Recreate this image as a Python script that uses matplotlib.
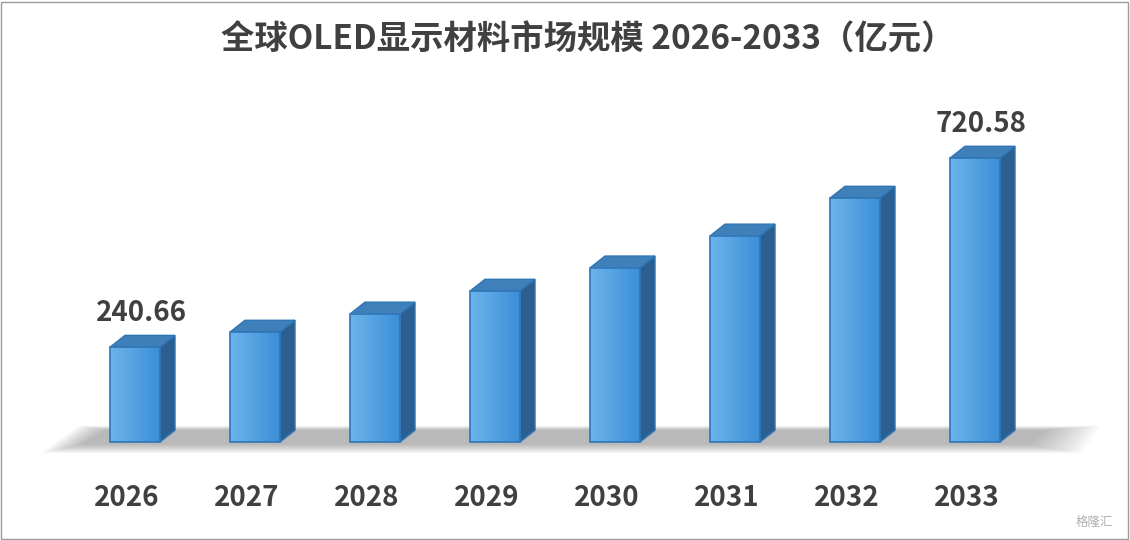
import numpy as np
import matplotlib.pyplot as plt
from matplotlib.patches import Polygon

plt.rcParams['font.family'] = ['Noto Sans CJK SC', 'DejaVu Sans']

years = ['2026', '2027', '2028', '2029', '2030', '2031', '2032', '2033']
values = [240.66, 279, 325, 383, 442, 523, 619, 720.58]
shown = {0: '240.66', 7: '720.58'}

fig = plt.figure(figsize=(11.3, 5.4), dpi=100)
ax = fig.add_axes([0, 0, 1, 1])
ax.set_xlim(-135 / 120, (1130 - 135) / 120)
ax.set_ylim(-248.7, 1121.9)
ax.axis('off')

w = 50 / 120
dx, dy = 15 / 120, 30

# floor shadow
for k in range(12):
    ax.add_patch(Polygon([(-0.45 - k * 0.03, -6 - k * 2), (7.45 + k * 0.04, -6 - k * 2),
                          (7.6 + k * 0.04, 30 + k), (-0.25 - k * 0.02, 30 + k)],
                         closed=True, fc='#606060', ec='none', alpha=0.045, zorder=1))

grad = np.linspace(0, 1, 64).reshape(1, -1)
cmap = plt.matplotlib.colors.LinearSegmentedColormap.from_list('b', ['#6CB4EC', '#3B8ED6'])
for i, v in enumerate(values):
    x0 = i - w / 2
    x1 = i + w / 2
    # side face
    ax.add_patch(Polygon([(x1, 0), (x1 + dx, dy), (x1 + dx, v + dy), (x1, v)],
                         closed=True, fc='#2B5F90', ec='#2F75B5', lw=1, zorder=3))
    # top face
    ax.add_patch(Polygon([(x0, v), (x1, v), (x1 + dx, v + dy), (x0 + dx, v + dy)],
                         closed=True, fc='#3F7FBA', ec='#2F75B5', lw=1, zorder=3))
    # front face with gradient
    ax.imshow(grad, extent=(x0, x1, 0, v), aspect='auto', zorder=4, cmap=cmap)
    ax.bar(i, v, width=w, fc='none', ec='#2F75B5', lw=1.2, zorder=5)
    if i in shown:
        ax.text(i + 0.05, v + dy + 22, shown[i], ha='center', va='bottom', fontsize=20,
                fontweight='bold', color='#404040', zorder=6)
    ax.text(i - 0.07, -142, years[i], ha='center', va='center', fontsize=20,
            fontweight='bold', color='#404040')

ax.set_xlim(-135 / 120, (1130 - 135) / 120)
ax.set_ylim(-248.7, 1121.9)

fig.text(0.52, 1 - 40 / 540, '全球OLED显示材料市场规模 2026-2033（亿元）', ha='center', va='center',
         fontsize=24, fontweight='bold', color='#404040')
fig.text(0.985, 0.02, '格隆汇', ha='right', va='bottom', fontsize=9, color='#b0b0b0')
fig.add_artist(plt.Rectangle((0.001, 0.002), 0.997, 0.995, transform=fig.transFigure,
                             fill=False, ec='#9a9a9a', lw=1))
fig.savefig('out.png', dpi=100)
